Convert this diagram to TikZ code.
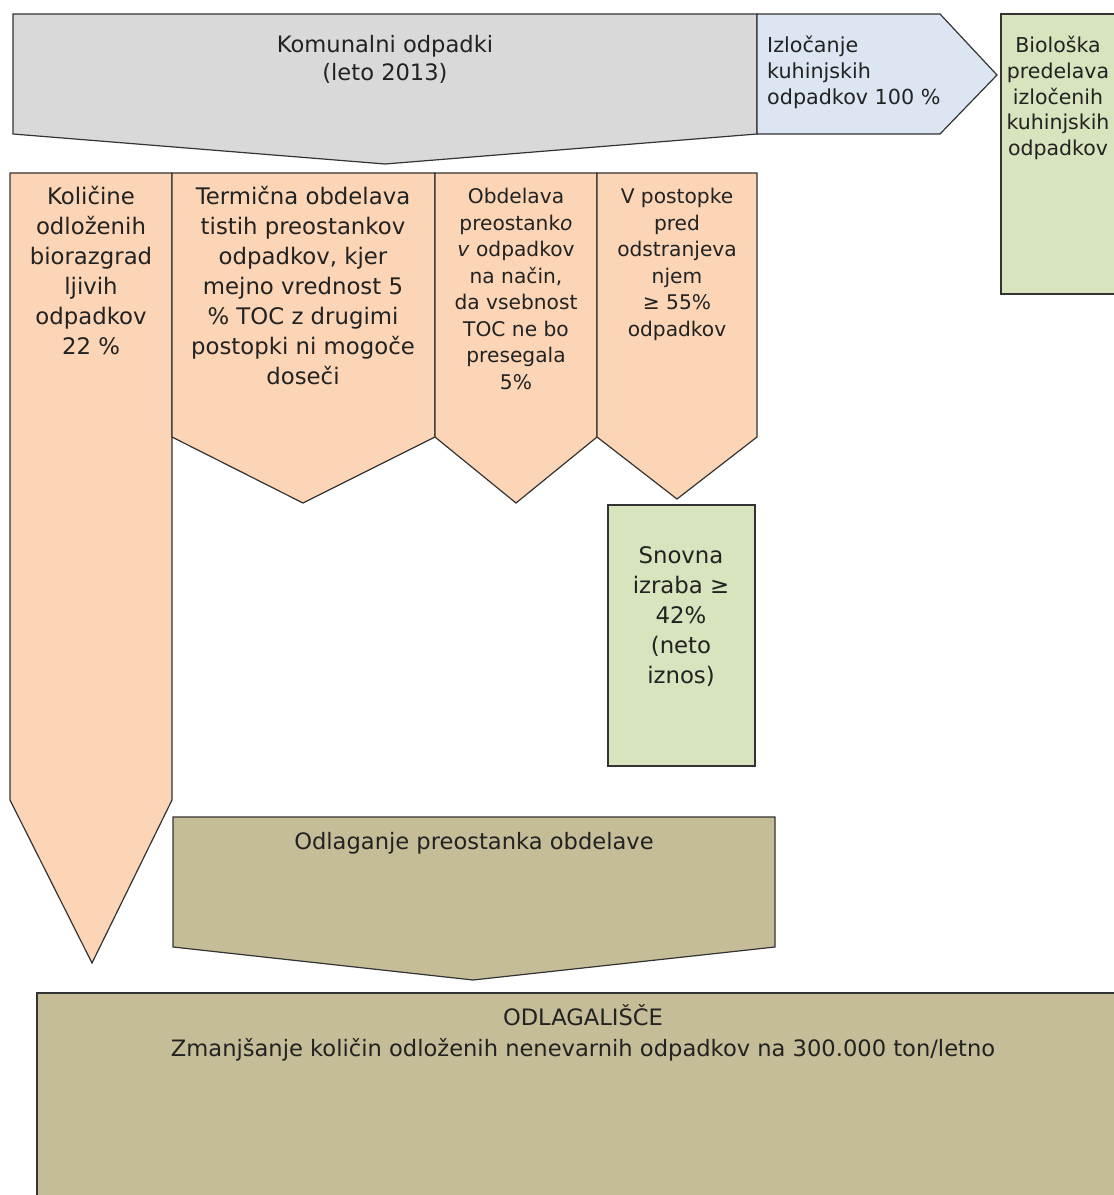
\documentclass[tikz,border=0pt]{standalone}
\usepackage{fontspec}
\setmainfont{DejaVu Sans}
\definecolor{grayF}{HTML}{D9D9D9}
\definecolor{blueF}{HTML}{DCE6F2}
\definecolor{greenF}{HTML}{D7E4BD}
\definecolor{orangeF}{HTML}{FBD5B5}
\definecolor{oliveF}{HTML}{C4BD97}
\definecolor{lineC}{HTML}{333333}
\definecolor{textC}{HTML}{222222}
\begin{document}
\begin{tikzpicture}[x=1pt,y=-1pt,
  shp/.style={draw=lineC, line width=1.2pt, line join=miter},
  txt/.style={text=textC, align=center, inner sep=0pt, anchor=north},
  bigf/.style={font=\fontsize{22.8}{30}\selectfont},
  midf/.style={font=\fontsize{20.2}{26.5}\selectfont},
  lowf/.style={font=\fontsize{22.6}{31}\selectfont}]
\useasboundingbox (0,0) rectangle (1114,1195);
\clip (0,0) rectangle (1114,1195);
% top row
\filldraw[shp, fill=grayF] (13,14) -- (757,14) -- (757,134) -- (385,164) -- (13,134) -- cycle;
\filldraw[shp, fill=blueF] (757,14) -- (940,14) -- (997,75) -- (940,134) -- (757,134) -- cycle;
\filldraw[shp, fill=greenF] (1001,14) rectangle (1118,294);
% orange columns
\filldraw[shp, fill=orangeF] (10,173) -- (172,173) -- (172,800) -- (92,963) -- (10,800) -- cycle;
\filldraw[shp, fill=orangeF] (172,173) -- (435,173) -- (435,437) -- (303,503) -- (172,437) -- cycle;
\filldraw[shp, fill=orangeF] (435,173) -- (597,173) -- (597,437) -- (516,503) -- (435,437) -- cycle;
\filldraw[shp, fill=orangeF] (597,173) -- (757,173) -- (757,437) -- (677,499) -- (597,437) -- cycle;
% green snovna
\filldraw[shp, fill=greenF] (608,505) rectangle (755,766);
% olive
\filldraw[shp, fill=oliveF] (173,817) -- (775,817) -- (775,947) -- (473,980) -- (173,947) -- cycle;
\filldraw[shp, fill=oliveF] (37,993) rectangle (1130,1200);
% texts
\node[txt, font=\fontsize{22.6}{28}\selectfont] (kom) at (385,35) {Komunalni odpadki\\(leto 2013)};
\node[txt, font=\fontsize{20.7}{26}\selectfont, align=left, anchor=north west] (izl) at (767,36) {Izločanje\\kuhinjskih\\odpadkov 100 \%};
\node[txt, font=\fontsize{20.5}{25.7}\selectfont] (bio) at (1058,36) {Biološka\\predelava\\izločenih\\kuhinjskih\\odpadkov};
\node[txt, bigf] (c1) at (91,186) {Količine\\odloženih\\biorazgrad\\ljivih\\odpadkov\\22 \%};
\node[txt, bigf] (c2) at (303,186) {Termična obdelava\\tistih preostankov\\odpadkov, kjer\\mejno vrednost 5\\\% TOC z drugimi\\postopki ni mogoče\\doseči};
\node[txt, midf] (c3) at (516,188) {Obdelava\\preostank\textit{o}\\\textit{v} odpadkov\\na način,\\da vsebnost\\TOC ne bo\\presegala\\5\%};
\node[txt, midf] (c4) at (677,188) {V postopke\\pred\\odstranjeva\\njem\\≥ 55\%\\odpadkov};
\node[txt, bigf] (sn) at (681,546) {Snovna\\izraba ≥\\42\%\\(neto\\iznos)};
\node[txt, lowf] (odl) at (474,832) {Odlaganje preostanka obdelave};
\node[txt, lowf] (dep) at (583,1004) {ODLAGALIŠČE\\Zmanjšanje količin odloženih nenevarnih odpadkov na 300.000 ton/letno};
\end{tikzpicture}
\end{document}
